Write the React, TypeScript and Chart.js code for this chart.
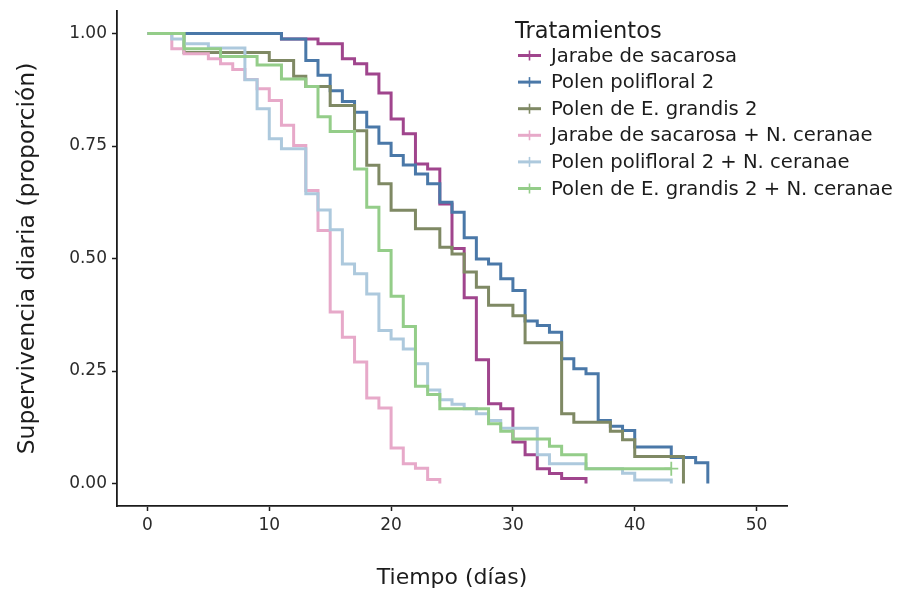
import React, { useEffect, useRef } from 'react';
import { Chart, registerables } from 'chart.js';

Chart.register(...registerables);

// ---- Data (Kaplan-Meier step curves) ----
const legendTitle = 'Tratamientos';
const xTitle = 'Tiempo (días)';
const yTitle = 'Supervivencia diaria (proporción)';

const seriesNames = [
  'Jarabe de sacarosa',
  'Polen polifloral 2',
  'Polen de E. grandis 2',
  'Jarabe de sacarosa + N. ceranae',
  'Polen polifloral 2 + N. ceranae',
  'Polen de E. grandis 2 + N. ceranae',
];
const seriesColors = ['#a0458d', '#4a78a8', '#7f8964', '#e7a9c9', '#adc9dd', '#94cd89'];

const jarabeDays = [0, 11, 14, 16, 17, 18, 19, 20, 21, 22, 23, 24, 25, 26, 27, 28, 29, 30, 31, 32, 33, 34, 36];
const jarabeSurv = [1, 0.988, 0.977, 0.944, 0.933, 0.91, 0.868, 0.81, 0.777, 0.71, 0.699, 0.621, 0.522, 0.413, 0.275, 0.177, 0.166, 0.092, 0.064, 0.033, 0.022, 0.011, 0];

const polifloralDays = [0, 11, 13, 14, 15, 16, 17, 18, 19, 20, 21, 22, 23, 24, 25, 26, 27, 28, 29, 30, 31, 32, 33, 34, 35, 36, 37, 38, 39, 40, 43, 45, 46];
const polifloralSurv = [1, 0.988, 0.94, 0.907, 0.873, 0.849, 0.825, 0.792, 0.756, 0.729, 0.708, 0.688, 0.666, 0.625, 0.603, 0.546, 0.499, 0.488, 0.455, 0.429, 0.361, 0.351, 0.336, 0.277, 0.255, 0.244, 0.14, 0.127, 0.118, 0.081, 0.058, 0.046, 0];

const grandisDays = [0, 3, 10, 12, 13, 15, 17, 18, 19, 20, 22, 24, 25, 26, 27, 28, 30, 31, 34, 35, 38, 39, 40, 44];
const grandisSurv = [1, 0.958, 0.94, 0.905, 0.882, 0.84, 0.784, 0.707, 0.666, 0.607, 0.566, 0.525, 0.51, 0.47, 0.436, 0.396, 0.373, 0.313, 0.155, 0.136, 0.116, 0.097, 0.06, 0];

const jarabeNcDays = [0, 2, 3, 5, 6, 7, 8, 9, 10, 11, 12, 13, 14, 15, 16, 17, 18, 19, 20, 21, 22, 23, 24];
const jarabeNcSurv = [1, 0.966, 0.955, 0.944, 0.933, 0.92, 0.898, 0.877, 0.851, 0.796, 0.751, 0.651, 0.562, 0.381, 0.325, 0.27, 0.19, 0.168, 0.079, 0.044, 0.034, 0.009, 0];

const polifloralNcDays = [0, 2, 3, 5, 8, 9, 10, 11, 13, 14, 15, 16, 17, 18, 19, 20, 21, 22, 23, 24, 25, 26, 27, 28, 29, 32, 33, 36, 39, 40, 43];
const polifloralNcSurv = [1, 0.988, 0.977, 0.968, 0.897, 0.833, 0.766, 0.744, 0.644, 0.608, 0.564, 0.488, 0.466, 0.421, 0.34, 0.321, 0.299, 0.266, 0.208, 0.186, 0.176, 0.166, 0.155, 0.14, 0.123, 0.064, 0.044, 0.033, 0.023, 0.008, 0];

const grandisNcDays = [0, 3, 6, 9, 11, 13, 14, 15, 17, 18, 19, 20, 21, 22, 23, 24, 28, 29, 30, 33, 34, 36, 43];
const grandisNcSurv = [1, 0.966, 0.949, 0.93, 0.899, 0.882, 0.815, 0.782, 0.699, 0.614, 0.518, 0.416, 0.349, 0.216, 0.198, 0.166, 0.133, 0.116, 0.099, 0.083, 0.064, 0.033, 0.033];

// censored observation marks (series index, day, survival)
const censorSeries = [5];
const censorDays = [43];
const censorSurv = [0.033];

const seriesDays = [jarabeDays, polifloralDays, grandisDays, jarabeNcDays, polifloralNcDays, grandisNcDays];
const seriesSurv = [jarabeSurv, polifloralSurv, grandisSurv, jarabeNcSurv, polifloralNcSurv, grandisNcSurv];

const xTicks = [0, 10, 20, 30, 40, 50];
const yTicks = [0, 0.25, 0.5, 0.75, 1];

const FONT = "'DejaVu Sans', sans-serif";
const INK = '#1c1c1c';

const legendPlugin = {
  id: 'kmLegend',
  afterDraw(chart: any) {
    const ctx = chart.ctx as CanvasRenderingContext2D;
    ctx.save();
    ctx.fillStyle = INK;
    ctx.textAlign = 'left';
    ctx.textBaseline = 'alphabetic';
    ctx.font = `22.5px ${FONT}`;
    ctx.fillText(legendTitle, 515, 38);
    ctx.font = `19.6px ${FONT}`;
    ctx.textBaseline = 'middle';
    seriesNames.forEach((name, i) => {
      const cy = 55.5 + i * 26.6;
      ctx.strokeStyle = seriesColors[i];
      ctx.lineWidth = 3;
      ctx.beginPath();
      ctx.moveTo(518, cy);
      ctx.lineTo(541, cy);
      ctx.stroke();
      ctx.lineWidth = 1.6;
      ctx.beginPath();
      ctx.moveTo(529.5, cy - 5);
      ctx.lineTo(529.5, cy + 5);
      ctx.stroke();
      ctx.fillStyle = INK;
      ctx.fillText(name, 551, cy + 1);
    });
    ctx.restore();
  },
};

export default function App() {
  const ref = useRef<HTMLCanvasElement>(null);

  useEffect(() => {
    const canvas = ref.current;
    if (!canvas) return;

    const lineSets = seriesNames.map((name, i) => ({
      type: 'line' as const,
      label: name,
      data: seriesDays[i].map((d, k) => ({ x: d, y: seriesSurv[i][k] })),
      borderColor: seriesColors[i],
      backgroundColor: seriesColors[i],
      borderWidth: 3,
      pointRadius: 0,
      pointHoverRadius: 0,
      stepped: 'before' as const,
      fill: false,
      tension: 0,
      borderCapStyle: 'butt' as const,
      borderJoinStyle: 'miter' as const,
      order: seriesNames.length - i + 1,
    }));

    const censorSet = {
      type: 'scatter' as const,
      label: 'censored',
      data: censorDays.map((d, k) => ({ x: d, y: censorSurv[k] })),
      pointStyle: 'cross' as const,
      pointRadius: 7,
      pointBorderWidth: 1.8,
      borderColor: censorSeries.map((s) => seriesColors[s]),
      backgroundColor: censorSeries.map((s) => seriesColors[s]),
      showLine: false,
      order: 0,
    };

    const chart = new Chart(canvas, {
      type: 'line',
      data: { datasets: [...lineSets, censorSet] as any },
      options: {
        responsive: false,
        devicePixelRatio: 1,
        animation: false,
        events: [],
        layout: { padding: { left: 0, right: 114, top: 11, bottom: 0 } },
        plugins: {
          legend: { display: false },
          tooltip: { enabled: false },
          title: { display: false },
        },
        scales: {
          x: {
            type: 'linear',
            min: -2.5,
            max: 52.5,
            afterBuildTicks: (axis: any) => {
              axis.ticks = xTicks.map((v) => ({ value: v }));
            },
            afterFit: (scale: any) => {
              scale.height = 90;
              scale.paddingLeft = 0;
              scale.paddingRight = 0;
            },
            ticks: {
              font: { family: FONT, size: 17 },
              color: '#2a2a2a',
              padding: 4,
              maxRotation: 0,
              callback: (v: any) => String(v),
            },
            grid: {
              display: true,
              drawOnChartArea: false,
              drawTicks: true,
              tickLength: 5,
              tickWidth: 1.5,
              tickColor: INK,
            },
            border: { display: true, color: INK, width: 1.8 },
            title: {
              display: true,
              text: xTitle,
              font: { family: FONT, size: 22 },
              color: INK,
              padding: { top: 0, bottom: 5 },
            },
          },
          y: {
            type: 'linear',
            min: -0.05,
            max: 1.05,
            afterBuildTicks: (axis: any) => {
              axis.ticks = yTicks.map((v) => ({ value: v }));
            },
            afterFit: (scale: any) => {
              scale.width = 117;
              scale.paddingTop = 0;
              scale.paddingBottom = 0;
            },
            ticks: {
              font: { family: FONT, size: 17 },
              color: '#2a2a2a',
              padding: 5,
              callback: (v: any) => Number(v).toFixed(2),
            },
            grid: {
              display: true,
              drawOnChartArea: false,
              drawTicks: true,
              tickLength: 5,
              tickWidth: 1.5,
              tickColor: INK,
            },
            border: { display: true, color: INK, width: 1.8 },
            title: {
              display: true,
              text: yTitle,
              font: { family: FONT, size: 23.5 },
              color: INK,
              padding: { top: 14, bottom: 0 },
            },
          },
        },
      },
      plugins: [legendPlugin],
    });

    return () => chart.destroy();
  }, []);

  return (
    <div style={{ position: 'absolute', left: 0, top: 0, width: 901, height: 596, background: '#ffffff' }}>
      <canvas ref={ref} width={901} height={596} style={{ display: 'block', width: 901, height: 596 }} />
    </div>
  );
}
